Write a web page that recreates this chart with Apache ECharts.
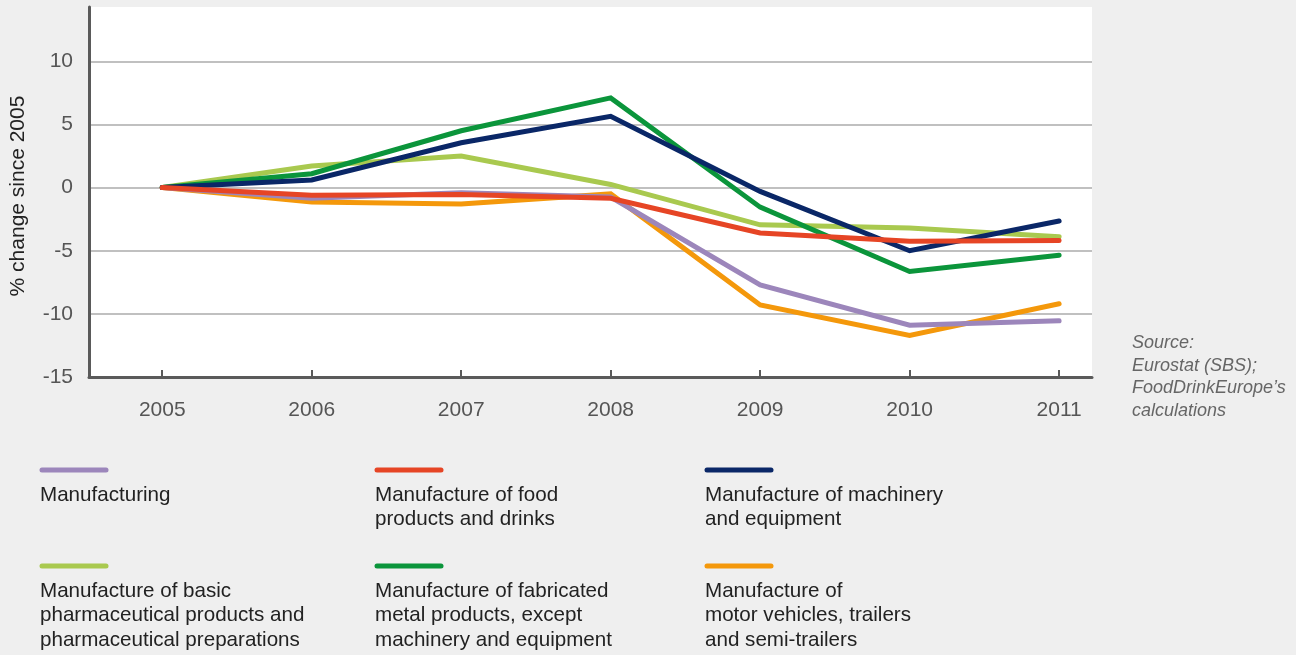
<!DOCTYPE html>
<html>
<head>
<meta charset="utf-8">
<script src="https://cdn.jsdelivr.net/npm/echarts@6/dist/echarts.min.js"></script>
<style>
  html, body { margin: 0; padding: 0; background: #efefef; }
  #chart { width: 1296px; height: 655px; }
</style>
</head>
<body>
<div id="chart"></div>
<script>
// data (% change since 2005)
var years = [2005, 2006, 2007, 2008, 2009, 2010, 2011]
var yTicks = [-15, -10, -5, 0, 5, 10]

var manufacturing = [0, -0.85, -0.4, -0.75, -7.7, -10.9, -10.55]
var foodDrinks = [0, -0.6, -0.55, -0.85, -3.6, -4.25, -4.2]
var machinery = [0, 0.6, 3.55, 5.65, -0.3, -5.0, -2.65]
var pharma = [0, 1.7, 2.5, 0.25, -2.95, -3.2, -3.9]
var metal = [0, 1.1, 4.5, 7.1, -1.55, -6.65, -5.35]
var motorVehicles = [0, -1.15, -1.3, -0.5, -9.3, -11.7, -9.2]

var seriesNames = [
  'Manufacturing',
  'Manufacture of food products and drinks',
  'Manufacture of machinery and equipment',
  'Manufacture of basic pharmaceutical products and pharmaceutical preparations',
  'Manufacture of fabricated metal products, except machinery and equipment',
  'Manufacture of motor vehicles, trailers and semi-trailers'
]
var legendLabels = [
  'Manufacturing',
  'Manufacture of food\nproducts and drinks',
  'Manufacture of machinery\nand equipment',
  'Manufacture of basic\npharmaceutical products and\npharmaceutical preparations',
  'Manufacture of fabricated\nmetal products, except\nmachinery and equipment',
  'Manufacture of\nmotor vehicles, trailers\nand semi-trailers'
]
var seriesValues = [manufacturing, foodDrinks, machinery, pharma, metal, motorVehicles]
var colors = ['#9c86bb', '#e64525', '#0a2767', '#a9c94f', '#0b953b', '#f4980b']
// drawing order, bottom to top
var drawOrder = [3, 5, 0, 4, 2, 1]

var font = 'Liberation Sans, Arial, sans-serif'

function pairs(vals) {
  return years.map(function(y, i) { return [y, vals[i]] })
}

var series = drawOrder.map(function(k, i) {
  return {
    name: seriesNames[k],
    type: 'line',
    data: pairs(seriesValues[k]),
    showSymbol: false,
    z: 2 + i,
    lineStyle: { width: 5, color: colors[k], cap: 'round', join: 'miter' },
    itemStyle: { color: colors[k] },
    emphasis: { disabled: true }
  }
})

// legend drawn as graphic: line swatch above a wrapped label
var legendCols = [40, 375, 705]
var legendRows = [470, 566]
var graphics = []
seriesNames.forEach(function(name, i) {
  var x = legendCols[i % 3]
  var y = legendRows[Math.floor(i / 3)]
  graphics.push({
    type: 'line',
    shape: { x1: x + 2, y1: y, x2: x + 66, y2: y },
    style: { stroke: colors[i], lineWidth: 5, lineCap: 'round' }
  })
  graphics.push({
    type: 'text',
    x: x,
    y: y + 13,
    style: {
      text: legendLabels[i],
      fill: '#222',
      font: '20.6px ' + font,
      lineHeight: 24.5,
      verticalAlign: 'top'
    }
  })
})
graphics.push({
  type: 'text',
  x: 1132,
  y: 332,
  style: {
    text: 'Source:\nEurostat (SBS);\nFoodDrinkEurope\u2019s\ncalculations',
    fill: '#666',
    font: 'italic 18px ' + font,
    lineHeight: 22.5,
    verticalAlign: 'top'
  }
})

var option = {
  backgroundColor: '#efefef',
  animation: false,
  grid: {
    left: 88,
    right: 204,
    top: 7,
    bottom: 278,
    show: true,
    backgroundColor: '#ffffff',
    borderWidth: 0
  },
  xAxis: {
    type: 'value',
    min: 2004.51,
    max: 2011.22,
    axisLine: { onZero: false, lineStyle: { color: '#5a5a5a', width: 3 } },
    axisTick: {
      show: true,
      inside: true,
      length: 7,
      customValues: years,
      lineStyle: { color: '#5a5a5a', width: 2 }
    },
    axisLabel: {
      customValues: years,
      margin: 23,
      color: '#555',
      fontSize: 21,
      fontFamily: font,
      formatter: function(v) { return String(v) }
    },
    splitLine: { show: false }
  },
  yAxis: {
    type: 'value',
    min: -15,
    max: 14.3,
    name: '% change since 2005',
    nameLocation: 'middle',
    nameRotate: 90,
    nameGap: 60,
    nameTextStyle: { color: '#222', fontSize: 21, fontFamily: font, padding: [0, 8, 0, 0] },
    axisLine: { show: true, onZero: false, lineStyle: { color: '#5a5a5a', width: 3 } },
    axisTick: { show: false, customValues: yTicks },
    axisLabel: {
      customValues: yTicks,
      margin: 16,
      color: '#555',
      fontSize: 21,
      fontFamily: font
    },
    splitLine: { show: true, lineStyle: { color: '#ababab', width: 1.5 } }
  },
  series: series,
  graphic: graphics
}

var chart = echarts.init(document.getElementById('chart'))
chart.setOption(option)
</script>
</body>
</html>
